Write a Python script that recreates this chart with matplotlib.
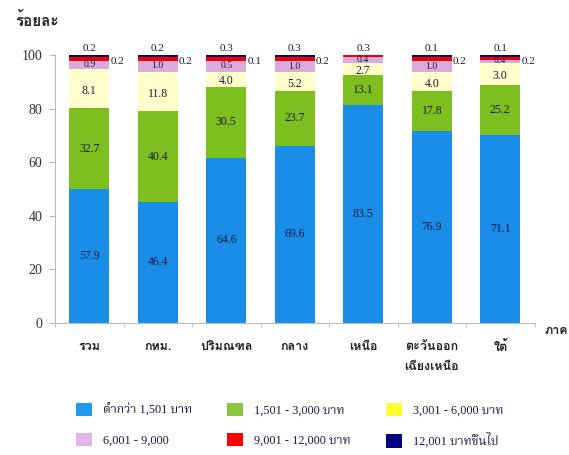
#!/usr/bin/env python3
"""Stacked bars: share of households by monthly spending band, by region."""
import matplotlib

matplotlib.use("Agg")
import matplotlib.pyplot as plt
import numpy as np
from matplotlib.patches import Patch

regions = ["รวม", "กทม.", "ปริมณฑล", "กลาง", "เหนือ", "ตะวันออก\nเฉียงเหนือ", "ใต้"]
bands = ["ต่ำกว่า 1,501 บาท", "1,501 - 3,000 บาท", "3,001 - 6,000 บาท",
         "6,001 - 9,000", "9,001 - 12,000 บาท", "12,001 บาทขึ้นไป"]

# segment heights as drawn in the picture (the thin top bands are drawn
# thicker than their printed values, so these differ from the labels)
drawn_low = [50.0, 45.0, 61.4, 66.0, 81.3, 71.7, 70.1]
drawn_1501 = [30.1, 34.1, 26.8, 20.7, 11.2, 15.0, 18.7]
drawn_3001 = [14.6, 14.7, 5.6, 6.8, 4.6, 6.8, 8.3]
drawn_6001 = [3.0, 3.9, 3.9, 4.2, 2.0, 4.2, 1.0]
drawn_9001 = [1.5, 1.5, 1.5, 1.5, 0.9, 1.5, 1.3]
drawn_12001 = [0.8, 0.8, 0.8, 0.8, 0.0, 0.8, 0.6]

# printed percentages
pct_low = [57.9, 46.4, 64.6, 69.6, 83.5, 76.9, 71.1]
pct_1501 = [32.7, 40.4, 30.5, 23.7, 13.1, 17.8, 25.2]
pct_3001 = [8.1, 11.8, 4.0, 5.2, 2.7, 4.0, 3.0]
pct_6001 = [0.9, 1.0, 0.5, 1.0, 0.4, 1.0, 0.4]
pct_9001 = [0.2, 0.2, 0.1, 0.2, 0.3, 0.2, 0.2]
pct_12001 = [0.2, 0.2, 0.3, 0.3, None, 0.1, 0.1]

bar_colors = ["#1a8de8", "#7dbf1e", "#ffffcc", "#dcaadc", "#f00000", "#00006e"]
key_colors = ["#1e9cf0", "#8cc63f", "#ffff33", "#e2b4ea", "#ff0000", "#000080"]

SERIF = ["Liberation Serif", "Noto Serif Thai"]
THAI = ["Loma", "Noto Sans Thai Looped"]
TXT = "#1a1a3a"

fig = plt.figure(figsize=(5.69, 4.55), dpi=100)
ax = fig.add_axes([0.0967, 0.2908, 0.8427, 0.5884])

x = np.arange(len(regions))
drawn = [drawn_low, drawn_1501, drawn_3001, drawn_6001, drawn_9001, drawn_12001]
bottom = np.zeros(len(regions))
mids = []
for h, c in zip(drawn, bar_colors):
    h = np.array(h)
    ax.bar(x, h, 0.58, bottom=bottom, color=c, linewidth=0)
    mids.append(bottom + h / 2)
    bottom = bottom + h

# labels inside the bigger segments
nudge = [0, 0, -0.9, 0.2]
for k, pct in enumerate([pct_low, pct_1501, pct_3001, pct_6001]):
    fs = 8.5 if k < 3 else 7
    for i, v in enumerate(pct):
        ax.text(x[i], mids[k][i] + nudge[k], f"{v:.1f}", ha="center",
                va="center", fontsize=fs, family=SERIF, color=TXT)

# top band above the bar, second band to the right
for i in range(len(regions)):
    top = pct_12001[i] if pct_12001[i] is not None else pct_9001[i]
    ax.text(x[i], 100.6, f"{top:.1f}", ha="center", va="bottom",
            fontsize=8, family=SERIF, color=TXT)
    if pct_12001[i] is not None:
        ax.text(x[i] + 0.31, 97.5, f"{pct_9001[i]:.1f}", ha="left", va="center",
                fontsize=8, family=SERIF, color=TXT)

ax.set_xlim(-0.5, 6.5)
ax.set_ylim(0, 100)
ax.set_yticks(np.arange(0, 101, 20))
ax.set_yticklabels([str(v) for v in range(0, 101, 20)], family=SERIF,
                   fontsize=10, color="#333333")
ax.set_xticks(x)
ax.set_xticklabels(regions, family=THAI, fontsize=9, fontweight="bold",
                   color="#222222", linespacing=1.95, va="top")
ax.set_xticks(np.arange(-0.5, 7, 1), minor=True)
ax.tick_params(axis="x", which="major", length=0, pad=13)
ax.tick_params(axis="x", which="minor", length=3, color="#bbbbbb")
ax.tick_params(axis="y", length=4, color="#bbbbbb", pad=5)
for s in ("top", "right"):
    ax.spines[s].set_visible(False)
for s in ("left", "bottom"):
    ax.spines[s].set_color("#bbbbbb")
    ax.spines[s].set_linewidth(0.8)

fig.text(0.026, 0.955, "ร้อยละ", family=THAI, fontsize=11, fontweight="bold",
         color="#222222", va="center")
fig.text(0.956, 0.273, "ภาค", family=THAI, fontsize=9, fontweight="bold",
         color="#222222", va="center")

order = [0, 3, 1, 4, 2, 5]
handles = [Patch(facecolor=key_colors[j], edgecolor="none") for j in order]
labels = [bands[j] for j in order]
leg = fig.legend(handles, labels, ncol=3, loc="upper left",
                 bbox_to_anchor=(0.125, 0.126), frameon=False,
                 prop={"family": SERIF, "size": 8.8},
                 handlelength=1.3, handleheight=1.3, handletextpad=0.9,
                 columnspacing=2.9, labelspacing=1.35, borderaxespad=0)
for t in leg.get_texts():
    t.set_color(TXT)

fig.savefig("out.png", dpi=100)
